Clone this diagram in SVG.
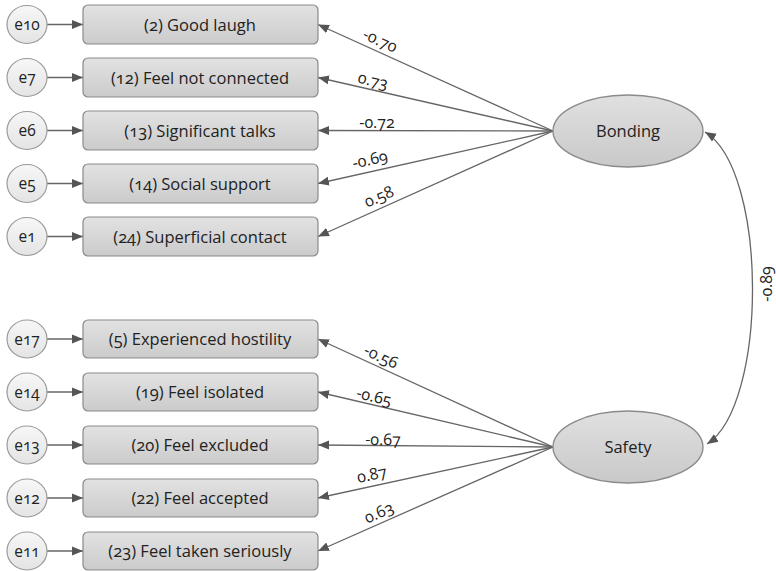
<svg xmlns="http://www.w3.org/2000/svg" width="776" height="571" viewBox="0 0 776 571">
  <style>
    text { font-family: "Open Sans", "Noto Sans", "Liberation Sans", sans-serif; font-size: 16.5px; fill: #222; font-variant-numeric: oldstyle-nums; font-feature-settings: "onum" 1; text-anchor: middle; }
    .coef { font-size: 16px; }
    .etxt { font-size: 15.5px; }
    .box { fill: url(#boxFill); stroke: #8a8a8a; stroke-width: 1.2; }
    .err { fill: url(#errFill); stroke: #9a9a9a; stroke-width: 1.2; }
    .lat { fill: url(#latFill); stroke: #8a8a8a; stroke-width: 1.4; }
    .edge { stroke: #666; stroke-width: 1.3; fill: none; marker-end: url(#arrow); }
    .cov { stroke: #666; stroke-width: 1.3; fill: none; marker-start: url(#arrow); marker-end: url(#arrow); }
  </style>
  <defs>
    <linearGradient id="boxFill" x1="0" y1="0" x2="0" y2="1">
      <stop offset="0" stop-color="#e2e2e2"/>
      <stop offset="1" stop-color="#cbcbcb"/>
    </linearGradient>
    <linearGradient id="errFill" x1="0" y1="0" x2="0" y2="1">
      <stop offset="0" stop-color="#f7f7f7"/>
      <stop offset="1" stop-color="#e4e4e4"/>
    </linearGradient>
    <linearGradient id="latFill" x1="0" y1="0" x2="0" y2="1">
      <stop offset="0" stop-color="#e0e0e0"/>
      <stop offset="1" stop-color="#c9c9c9"/>
    </linearGradient>
    <marker id="arrow" markerUnits="userSpaceOnUse" markerWidth="12" markerHeight="10" refX="11" refY="5" orient="auto-start-reverse">
      <path d="M0,0.5 L11,5 L0,9.5 z" fill="#555"/>
    </marker>
  </defs>

  <!-- connectors -->
  <g id="connectors">
    <!-- error terms to indicators -->
    <line class="edge" x1="47" y1="24.5" x2="83" y2="24.5"/>
    <line class="edge" x1="47" y1="77.5" x2="83" y2="77.5"/>
    <line class="edge" x1="47" y1="130.5" x2="83" y2="130.5"/>
    <line class="edge" x1="47" y1="183.5" x2="83" y2="183.5"/>
    <line class="edge" x1="47" y1="236.5" x2="83" y2="236.5"/>
    <line class="edge" x1="47" y1="339" x2="83" y2="339"/>
    <line class="edge" x1="47" y1="392" x2="83" y2="392"/>
    <line class="edge" x1="47" y1="445" x2="83" y2="445"/>
    <line class="edge" x1="47" y1="498" x2="83" y2="498"/>
    <line class="edge" x1="47" y1="551" x2="83" y2="551"/>
    <!-- Bonding loadings -->
    <line class="edge" x1="553" y1="131" x2="318" y2="24.5"/>
    <line class="edge" x1="553" y1="131" x2="318" y2="77.5"/>
    <line class="edge" x1="553" y1="131" x2="318" y2="130.5"/>
    <line class="edge" x1="553" y1="131" x2="318" y2="183.5"/>
    <line class="edge" x1="553" y1="131" x2="318" y2="236.5"/>
    <!-- Safety loadings -->
    <line class="edge" x1="553" y1="447" x2="318" y2="339"/>
    <line class="edge" x1="553" y1="447" x2="318" y2="392"/>
    <line class="edge" x1="553" y1="447" x2="318" y2="445"/>
    <line class="edge" x1="553" y1="447" x2="318" y2="498"/>
    <line class="edge" x1="553" y1="447" x2="318" y2="551"/>
    <!-- factor covariance -->
    <path class="cov" d="M705,132 C768,170 768,405 707,444"/>

    <!-- loading labels -->
    <text class="coef" transform="rotate(24.3 380 41)" x="380" y="46">-0.70</text>
    <text class="coef" transform="rotate(12.7 373 81)" x="373" y="86">0.73</text>
    <text class="coef" x="377" y="128">-0.72</text>
    <text class="coef" transform="rotate(-12.5 370 160)" x="370" y="165">-0.69</text>
    <text class="coef" transform="rotate(-24.1 379 197)" x="379" y="202">0.58</text>
    <text class="coef" transform="rotate(24.7 381 357)" x="381" y="362">-0.56</text>
    <text class="coef" transform="rotate(13.2 374 397)" x="374" y="402">-0.65</text>
    <text class="coef" transform="rotate(0.5 383 440)" x="383" y="445">-0.67</text>
    <text class="coef" transform="rotate(-12.2 372 475)" x="372" y="480">0.87</text>
    <text class="coef" transform="rotate(-23.9 379 513)" x="379" y="518">0.63</text>
    <text class="coef" transform="rotate(-90 768 284)" x="768" y="288">-0.89</text>
  </g>

  <!-- error terms -->
  <g id="e10"><ellipse class="err" cx="27" cy="24.5" rx="20" ry="19"/><text class="etxt" x="27" y="30">e10</text></g>
  <g id="e7"><ellipse class="err" cx="27" cy="77.5" rx="20" ry="19"/><text class="etxt" x="27" y="83">e7</text></g>
  <g id="e6"><ellipse class="err" cx="27" cy="130.5" rx="20" ry="19"/><text class="etxt" x="27" y="136">e6</text></g>
  <g id="e5"><ellipse class="err" cx="27" cy="183.5" rx="20" ry="19"/><text class="etxt" x="27" y="189">e5</text></g>
  <g id="e1"><ellipse class="err" cx="27" cy="236.5" rx="20" ry="19"/><text class="etxt" x="27" y="242">e1</text></g>
  <g id="e17"><ellipse class="err" cx="27" cy="339" rx="20" ry="19"/><text class="etxt" x="27" y="344.5">e17</text></g>
  <g id="e14"><ellipse class="err" cx="27" cy="392" rx="20" ry="19"/><text class="etxt" x="27" y="397.5">e14</text></g>
  <g id="e13"><ellipse class="err" cx="27" cy="445" rx="20" ry="19"/><text class="etxt" x="27" y="450.5">e13</text></g>
  <g id="e12"><ellipse class="err" cx="27" cy="498" rx="20" ry="19"/><text class="etxt" x="27" y="503.5">e12</text></g>
  <g id="e11"><ellipse class="err" cx="27" cy="551" rx="20" ry="19"/><text class="etxt" x="27" y="556.5">e11</text></g>

  <!-- observed indicators -->
  <g id="item2"><rect class="box" x="83" y="5" width="235" height="39" rx="5"/><text x="200" y="30.5">(2) Good laugh</text></g>
  <g id="item12"><rect class="box" x="83" y="58" width="235" height="39" rx="5"/><text x="200" y="83.5">(12) Feel not connected</text></g>
  <g id="item13"><rect class="box" x="83" y="111" width="235" height="39" rx="5"/><text x="200" y="136.5">(13) Significant talks</text></g>
  <g id="item14"><rect class="box" x="83" y="164" width="235" height="39" rx="5"/><text x="200" y="189.5">(14) Social support</text></g>
  <g id="item24"><rect class="box" x="83" y="217" width="235" height="39" rx="5"/><text x="200" y="242.5">(24) Superficial contact</text></g>
  <g id="item5"><rect class="box" x="83" y="320" width="235" height="38" rx="5"/><text x="200" y="345">(5) Experienced hostility</text></g>
  <g id="item19"><rect class="box" x="83" y="373" width="235" height="38" rx="5"/><text x="200" y="398">(19) Feel isolated</text></g>
  <g id="item20"><rect class="box" x="83" y="426" width="235" height="38" rx="5"/><text x="200" y="451">(20) Feel excluded</text></g>
  <g id="item22"><rect class="box" x="83" y="479" width="235" height="38" rx="5"/><text x="200" y="504">(22) Feel accepted</text></g>
  <g id="item23"><rect class="box" x="83" y="532" width="235" height="38" rx="5"/><text x="200" y="557">(23) Feel taken seriously</text></g>

  <!-- latent factors -->
  <g id="bonding"><ellipse class="lat" cx="628" cy="131" rx="75" ry="36"/><text x="628" y="137">Bonding</text></g>
  <g id="safety"><ellipse class="lat" cx="628" cy="447" rx="75" ry="36"/><text x="628" y="453">Safety</text></g>
</svg>
